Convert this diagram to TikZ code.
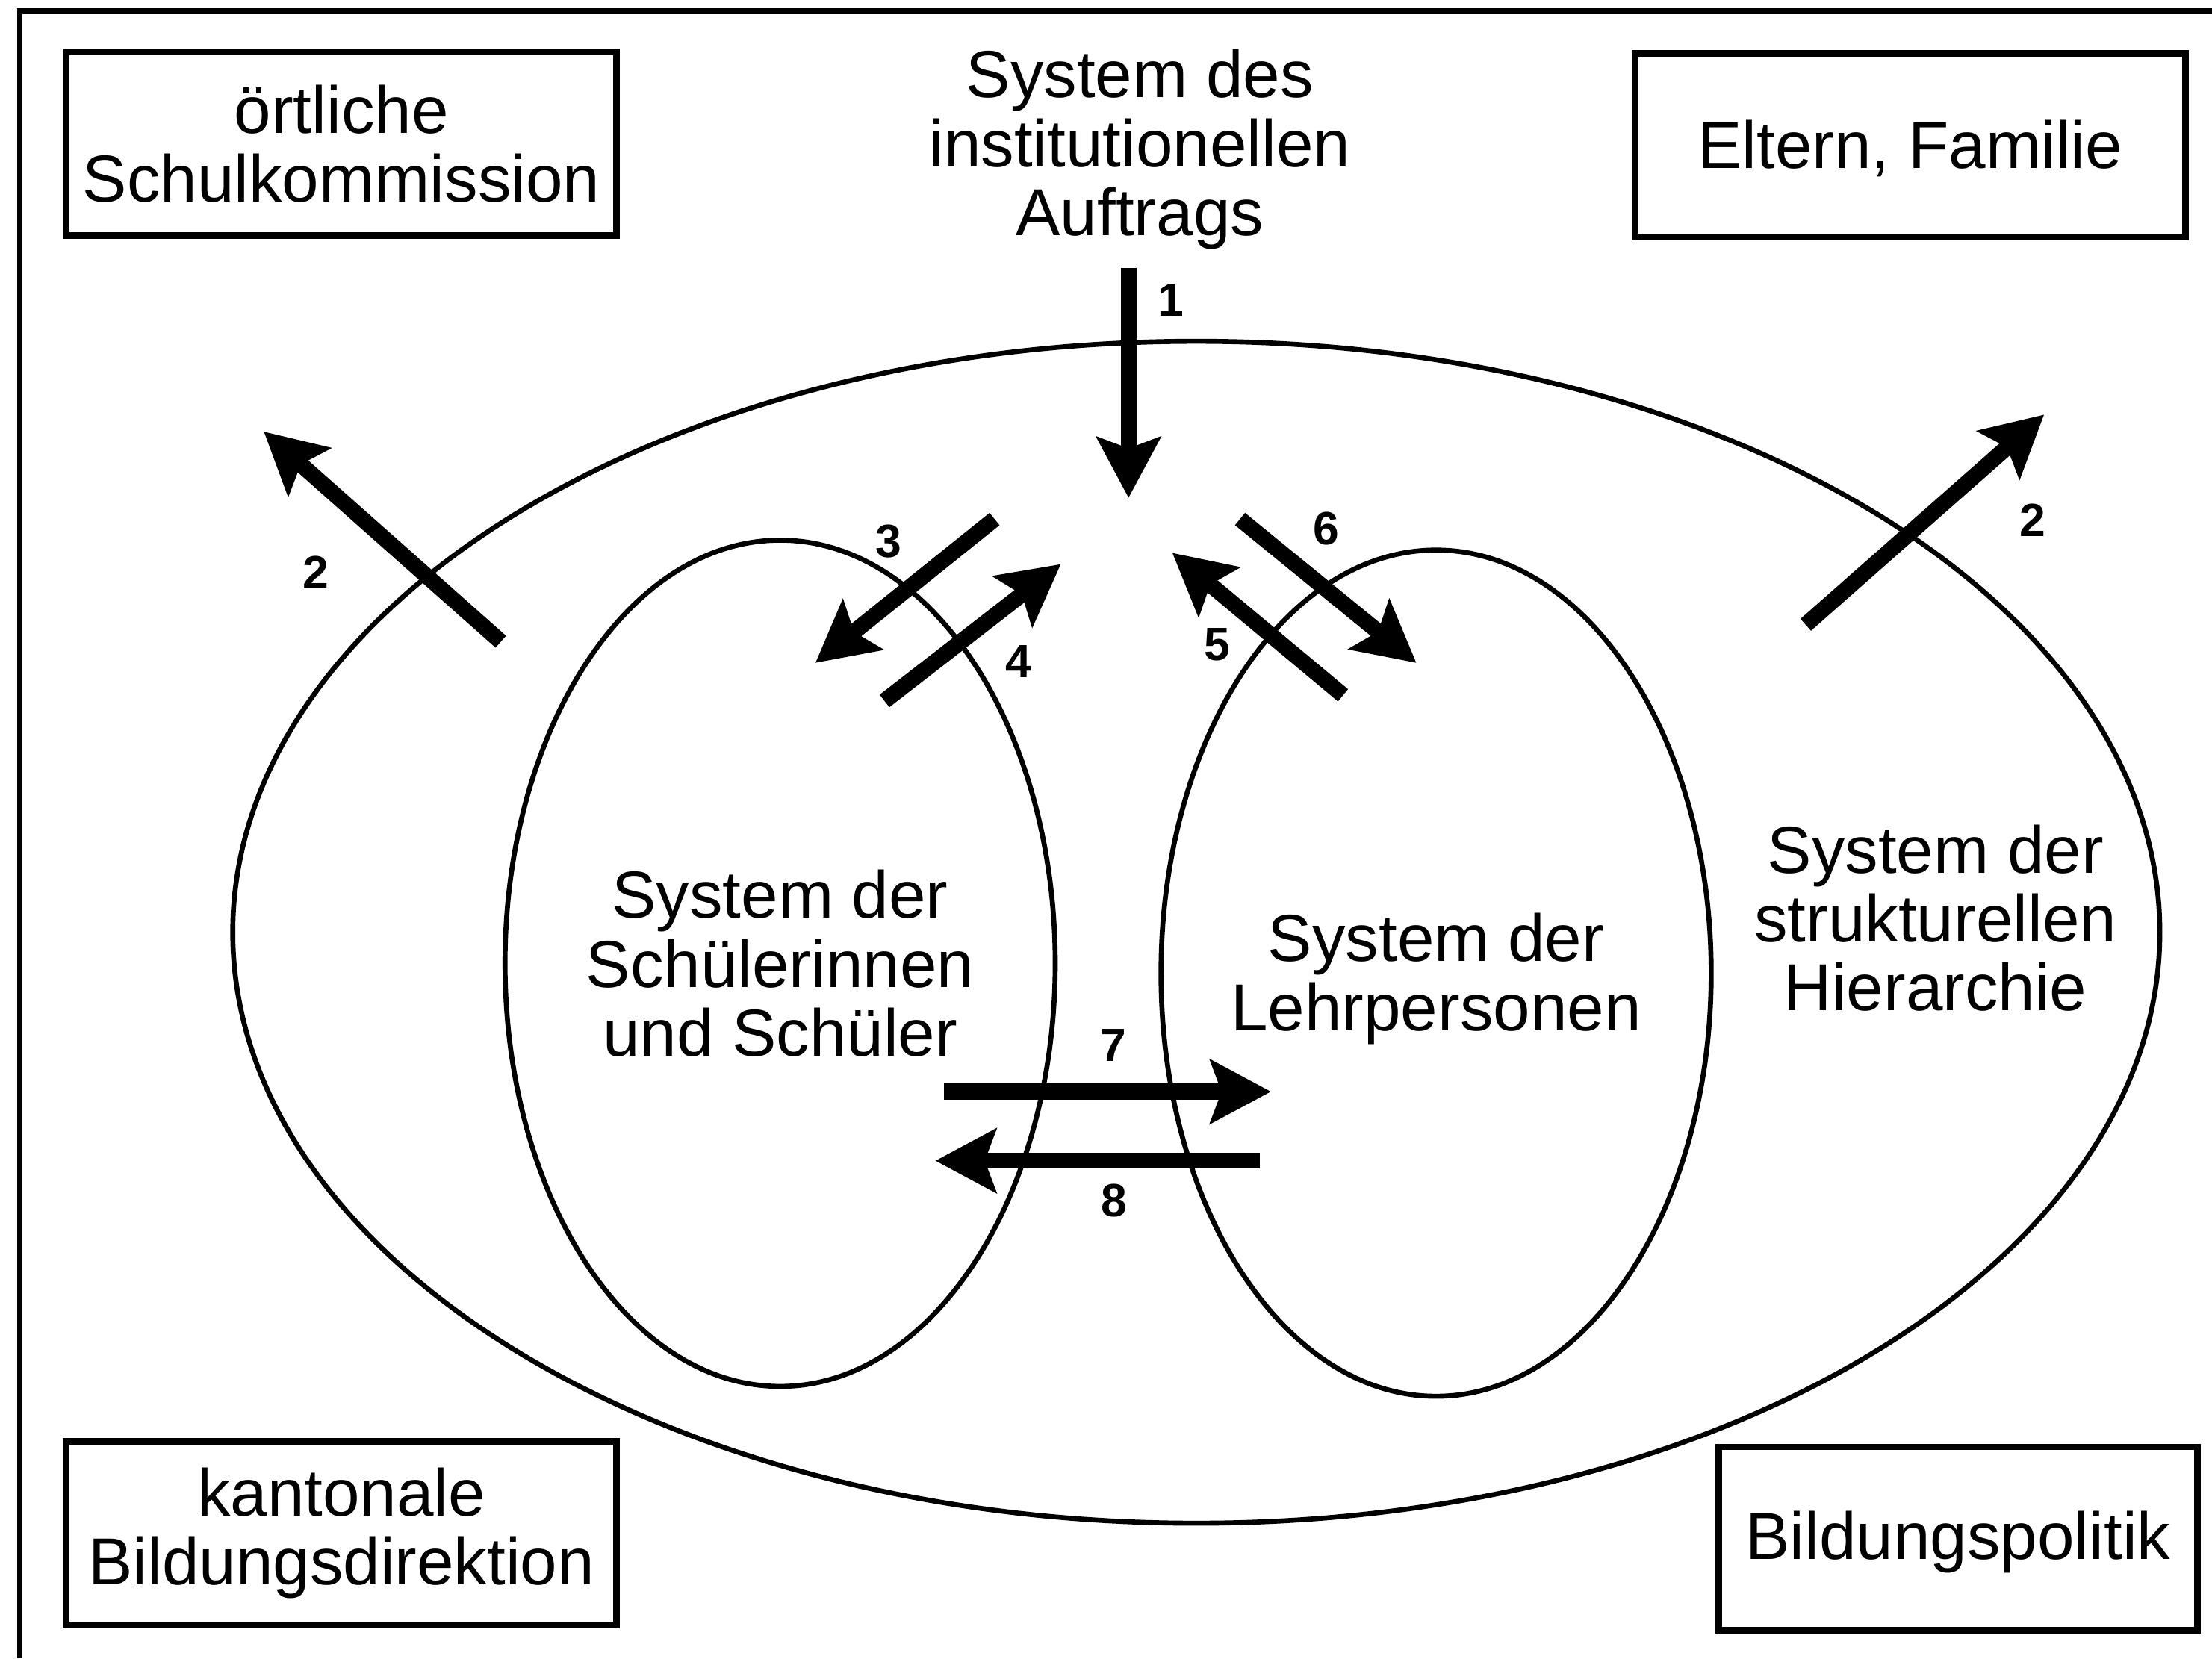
\documentclass[tikz,border=0pt]{standalone}
\usepackage{fontspec}
\setmainfont{Liberation Sans}
\usetikzlibrary{arrows.meta}

\begin{document}
\begin{tikzpicture}[x=0.01cm,y=-0.01cm,
  txt/.style={align=center,font=\fontsize{13.4}{13.9}\selectfont},
  box/.style={txt,draw,line width=1.3pt,minimum width=3.9cm,minimum height=1.3cm},
  nr/.style={font=\fontsize{9.4}{9.4}\selectfont\bfseries},
  sys/.style={line width=1pt},
  pfeil/.style={line width=3.2pt,-{Stealth[length=4.3mm,width=4.5mm,inset=0.8mm]}}]
 \useasboundingbox (0,0) rectangle (1568,1176);
 \draw[line width=1.1pt](14,1176)|-(1568,8);
 % systeme
 \draw[sys](848,661) ellipse [x radius=683,y radius=419];
 \draw[sys](553,683) ellipse [x radius=195,y radius=300];
 \draw[sys](1018,690) ellipse [x radius=195,y radius=300];
 \node[txt] (auftrag) at (808,106) {System des\\institutionellen\\Auftrags};
 \node[txt] (schueler) at (553,683) {System der\\Schülerinnen\\und Schüler};
 \node[txt] (lehrer) at (1018,694) {System der\\Lehrpersonen};
 \node[txt] (hierarchie) at (1372,651) {System der\\strukturellen\\Hierarchie};
 % umfeld
 \node[box] (kommission) at (242,102) {örtliche\\Schulkommission};
 \node[box,text height=11pt] (eltern) at (1354,103) {Eltern, Familie};
 \node[box] (direktion) at (242,1087) {kantonale\\Bildungsdirektion};
 \node[box,text height=11pt,minimum width=3.39cm] (politik) at (1388,1091) {Bildungspolitik};
 % pfeile
 \draw[pfeil](800,190)--(800,353);
 \draw[pfeil](355,455)--(187,306);
 \draw[pfeil](1280,443)--(1449,294);
 \draw[pfeil](705,368)--(578,470);
 \draw[pfeil](627,497)--(752,400);
 \draw[pfeil](952,493)--(831,392);
 \draw[pfeil](879,368)--(1004,470);
 \draw[pfeil](669,774)--(901,774);
 \draw[pfeil](893,823)--(663,823);
 \node[nr] (n1) at (830,213) {1};
 \node[nr] (n2a) at (224,406) {2};
 \node[nr] (n2b) at (1441,369) {2};
 \node[nr] (n3) at (630,384) {3};
 \node[nr] (n4) at (722,469) {4};
 \node[nr] (n5) at (863,457) {5};
 \node[nr] (n6) at (940,375) {6};
 \node[nr] (n7) at (789,741) {7};
 \node[nr] (n8) at (790,851) {8};
\end{tikzpicture}
\end{document}
